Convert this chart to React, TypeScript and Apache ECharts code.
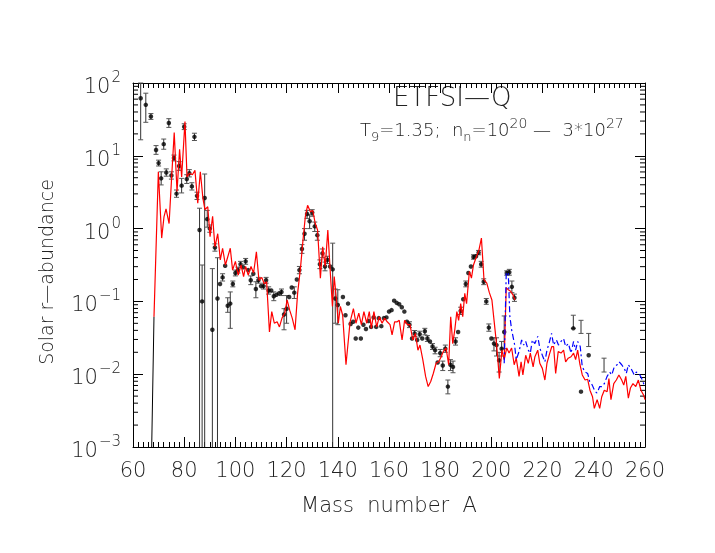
import React, { useEffect, useRef } from "react";
import * as echarts from "echarts";

// ---- data (log10 of abundance) ----
// Solar r-abundances: [A, log10 Y, log10 low, log10 high] (null = no error bar)
const solarPoints: (number | null)[][] = [
  [63, 1.79, 1.22, 2.0], [65, 1.70, 1.46, 1.86], [67, 1.54, 1.50, 1.58], [69, 1.08, 1.02, 1.14],
  [70, 0.90, 0.86, 0.94], [71, 0.69, 0.60, 0.78], [72, 1.16, 1.09, 1.23], [73, 0.77, 0.72, 0.82],
  [74, 1.45, 1.39, 1.51], [75, 0.73, 0.68, 0.78], [76, 0.97, 0.93, 1.01], [77, 0.48, 0.43, 0.53],
  [78, 0.86, 0.80, 0.92], [79, 0.59, 0.49, 0.69], [80, 1.40, 1.36, 1.44], [81, 0.68, 0.62, 0.74],
  [82, 0.76, 0.71, 0.81], [83, 0.58, 0.53, 0.63], [84, 1.26, 1.21, 1.31], [85, 0.45, 0.40, 0.50],
  [86, -0.02, -3, 0.28], [87, -1.0, -3, -0.5], [88, 0.42, -3, 0.75], [89, 0.13, 0.02, 0.25],
  [90, 0.0, -0.05, 0.05], [91, -1.39, -3, -0.55], [92, -0.26, -0.31, -0.21], [93, -0.96, -3, -0.40],
  [94, -0.76, null, null], [95, -0.67, -0.72, -0.62], [96, -0.51, null, null], [97, -1.06, -1.15, -0.95],
  [98, -1.03, -1.37, -0.87], [99, -0.76, -0.80, -0.72], [100, -0.61, -0.65, -0.57], [101, -0.57, -0.61, -0.53],
  [102, -0.49, -0.53, -0.45], [103, -0.53, null, null], [104, -0.45, -0.49, -0.41], [105, -0.57, null, null],
  [106, -0.71, -0.77, -0.65], [107, -0.62, null, null], [108, -0.83, -0.95, -0.73], [109, -0.71, -0.75, -0.67],
  [110, -0.79, null, null], [111, -0.79, -0.83, -0.75], [112, -0.71, -0.75, -0.67], [113, -0.85, -0.90, -0.80],
  [114, -0.85, null, null], [115, -0.93, -0.99, -0.87], [116, -0.91, null, null], [117, -0.89, null, null],
  [118, -0.87, -0.92, -0.83], [119, -1.18, -1.39, -1.10], [120, -1.10, -1.30, -0.92], [121, -0.94, null, null],
  [122, -0.81, null, null], [123, -0.88, -0.96, -0.80], [124, -0.70, null, null], [125, -0.57, -0.62, -0.52],
  [126, -0.28, -0.34, -0.22], [127, -0.07, -0.16, 0.0], [128, 0.20, 0.14, 0.25], [129, 0.10, 0.0, 0.19],
  [130, 0.22, 0.17, 0.26], [131, 0.03, -0.04, 0.09], [132, -0.09, -0.16, -0.04], [133, -0.49, -0.55, -0.43],
  [134, -0.34, -0.40, -0.28], [135, -0.52, -0.58, -0.46], [136, -0.43, -0.48, -0.38], [137, -0.52, null, null],
  [138, -0.56, -3, -0.20], [139, -0.96, -1.30, -0.83], [140, -1.05, -1.32, -0.84],
  [142, -0.94, null, null], [143, -1.19, null, null], [144, -1.03, null, null], [145, -1.31, null, null],
  [146, -1.28, null, null], [147, -1.51, null, null], [148, -1.36, null, null], [149, -1.51, null, null],
  [150, -1.32, null, null], [151, -1.38, null, null], [152, -1.27, null, null], [153, -1.35, null, null],
  [154, -1.22, null, null], [155, -1.35, null, null], [156, -1.23, null, null], [157, -1.34, null, null],
  [158, -1.23, null, null], [159, -1.22, null, null], [160, -1.14, null, null], [161, -1.12, null, null],
  [162, -0.99, null, null], [163, -1.02, null, null], [164, -1.04, null, null], [165, -1.08, null, null],
  [166, -1.14, null, null], [167, -1.28, null, null], [168, -1.32, -1.36, -1.28], [169, -1.51, null, null],
  [170, -1.44, -1.48, -1.40], [171, -1.53, null, null], [172, -1.45, -1.49, -1.41], [173, -1.51, null, null],
  [174, -1.41, -1.46, -1.37], [175, -1.51, -1.55, -1.47], [176, -1.55, null, null], [177, -1.62, -1.66, -1.58],
  [178, -1.67, -1.72, -1.63], [179, -1.84, null, null], [180, -1.71, -1.76, -1.66], [181, -1.88, -1.95, -1.82],
  [182, -1.65, -1.70, -1.60], [183, -2.17, -2.27, -2.08], [184, -1.87, -1.95, -1.80], [185, -1.90, -1.98, -1.82],
  [186, -1.55, -1.60, -1.50], [187, -1.42, null, null], [188, -1.13, -1.18, -1.08], [189, -0.97, null, null],
  [190, -0.76, -0.80, -0.72], [191, -0.61, null, null], [192, -0.52, null, null], [193, -0.39, -0.42, -0.36],
  [194, -0.38, null, null], [195, -0.33, -0.36, -0.30], [196, -0.49, -0.53, -0.45], [197, -0.73, -0.77, -0.69],
  [198, -1.00, -1.04, -0.96], [199, -1.36, -1.41, -1.31], [200, -1.51, null, null], [201, -1.58, -1.68, -1.50],
  [202, -1.60, -1.75, -1.50], [203, -1.81, -1.97, -1.70], [204, -1.65, -1.75, -1.55], [205, -1.42, -1.65, -1.20],
  [206, -0.61, -0.64, -0.58], [207, -0.60, -0.64, -0.56], [208, -0.80, -0.88, -0.72], [209, -0.95, -1.00, -0.90],
  [232, -1.37, -1.37, -1.19], [235, -2.24, null, null], [238, -1.74, null, null],
];
// error bars shown without a point: [A, log10 low, log10 high]
const bareBars: number[][] = [
  [235, -1.44, -1.26], [238, -1.62, -1.44], [244, -1.97, -1.78],
];

// r-process calculation, red curve: [A, log10 Y]
const calcLowStart: number[][] = [[67.3, -3.0], [68.2, -1.21]];
const calcRed: number[][] = [
  [68.2, -1.21], [69.9, 0.78], [71.2, -0.13], [72.1, 0.16], [72.9, 0.27], [74.1, 0.07], [75.1, 0.71],
  [76.1, 1.32], [77.2, 0.51], [78.2, 1.09], [79.0, 0.71], [80.3, 1.47], [81.1, 0.71], [82.1, 0.76],
  [83.2, 0.74], [84.2, 0.80], [85.3, 0.35], [86.3, 0.78], [87.3, 0.42], [88.1, 0.26], [89.2, 0.30],
  [90.1, -0.11], [91.1, 0.17], [92.0, -0.25], [93.1, -0.07], [94.1, -0.43], [95.0, -0.27], [96.1, -0.50],
  [97.0, -0.39], [98.0, -0.27], [98.9, -0.57], [100.0, -0.45], [101.1, -0.64], [102.2, -0.50], [103.2, -0.66],
  [104.0, -0.52], [105.0, -0.64], [106.1, -0.52], [107.1, -0.61], [108.2, -0.32], [109.2, -0.71], [110.3, -0.67],
  [111.3, -0.76], [112.2, -0.73], [113.3, -1.42], [114.2, -1.14], [115.2, -1.30], [116.3, -1.28], [117.2, -1.35],
  [118.2, -1.23], [119.3, -1.16], [120.2, -0.98], [121.2, -1.12], [122.2, -1.23], [123.3, -1.39], [124.3, -0.89],
  [125.4, -0.55], [126.4, -0.16], [127.3, 0.16], [128.2, 0.32], [129.3, 0.23], [130.2, 0.25], [131.2, 0.07],
  [132.1, -0.02], [133.2, -0.68], [134.1, -0.25], [135.1, -0.52], [136.1, -0.02], [137.1, -0.62], [137.9, -1.07],
  [138.6, -0.66], [139.4, -0.95], [140.2, -1.30], [141.0, -1.07], [141.9, -1.19], [143.2, -1.87], [144.8, -1.28],
  [146.1, -1.10], [147.1, -1.30], [148.2, -1.16], [149.2, -1.32], [150.2, -1.14], [151.3, -1.30], [152.3, -1.14],
  [153.1, -1.37], [154.1, -1.14], [155.2, -1.35], [156.2, -1.21], [157.3, -1.30], [158.3, -1.23], [159.3, -1.28],
  [160.4, -1.32], [161.2, -1.46], [162.2, -1.28], [163.2, -1.28], [164.0, -1.26], [165.1, -1.53], [166.1, -1.26],
  [167.2, -1.32], [168.2, -1.32], [169.3, -1.53], [170.3, -1.44], [171.3, -1.67], [172.1, -1.60], [173.2, -1.80],
  [174.3, -2.03], [175.3, -2.17], [176.3, -2.10], [177.3, -1.99], [178.4, -1.85], [179.4, -1.83], [180.4, -1.76],
  [181.2, -1.69], [182.3, -1.64], [183.3, -1.87], [184.1, -1.21], [184.9, -1.58], [185.7, -1.39], [186.5, -1.14],
  [187.2, -1.26], [188.0, -1.03], [188.8, -1.21], [189.6, -0.89], [190.3, -1.03], [191.4, -0.59], [192.2, -0.68],
  [193.0, -0.50], [194.1, -0.39], [195.1, -0.30], [196.1, -0.13], [197.1, -0.70], [198.2, -0.75], [199.2, -0.88],
  [200.2, -0.98], [201.3, -1.35], [202.1, -1.62], [203.1, -2.06], [204.1, -1.67], [205.0, -1.80], [206.0, -1.64],
  [206.9, -1.71], [207.9, -1.64], [208.9, -1.87], [209.7, -1.78], [210.8, -2.03], [211.6, -1.83], [212.3, -2.01],
  [213.4, -1.74], [214.4, -1.85], [215.2, -1.71], [216.3, -1.90], [217.0, -1.76], [218.1, -1.67], [218.9, -1.85],
  [219.9, -1.92], [220.9, -2.08], [221.7, -1.85], [222.8, -1.71], [223.6, -1.62], [224.3, -1.62], [225.1, -1.99],
  [226.1, -1.69], [227.2, -1.71], [228.2, -1.67], [229.0, -1.83], [230.0, -1.78], [231.1, -1.76], [232.1, -1.71],
  [232.9, -1.80], [233.7, -1.67], [234.6, -1.87], [235.5, -2.01], [236.6, -2.08], [237.6, -2.07], [238.5, -2.22],
  [239.5, -2.31], [240.2, -2.47], [241.3, -2.35], [242.3, -2.47], [243.1, -2.31], [244.1, -2.22], [245.2, -2.24],
  [245.9, -2.06], [246.7, -2.35], [247.8, -2.13], [248.8, -2.08], [249.8, -2.01], [250.9, -2.08], [251.7, -2.15],
  [252.5, -2.03], [253.5, -2.33], [254.3, -2.19], [255.3, -2.13], [256.4, -2.17], [257.4, -2.08], [258.4, -2.22],
  [259.5, -2.29], [260.0, -2.35],
];
const calcRedPeak: number[][] = [
  [205.0, -1.80], [205.8, -0.81], [206.6, -0.84], [207.5, -0.86], [208.4, -0.91], [209.2, -0.98],
];
// blue dashed curve: [A, log10 Y]
const calcBlue: number[][] = [
  [205.0, -1.85], [205.8, -0.60], [206.6, -0.62], [207.2, -1.20], [207.9, -1.39], [209.0, -1.58], [209.7, -1.80],
  [210.8, -1.69], [211.8, -1.53], [212.6, -1.60], [213.4, -1.55], [214.4, -1.67], [215.2, -1.71], [216.0, -1.53],
  [217.0, -1.58], [218.1, -1.48], [218.9, -1.64], [219.9, -1.74], [220.9, -1.83], [221.7, -1.67], [222.5, -1.58],
  [223.5, -1.44], [224.3, -1.60], [225.4, -1.53], [226.2, -1.60], [227.2, -1.55], [228.2, -1.51], [229.0, -1.62],
  [230.1, -1.58], [231.1, -1.71], [232.1, -1.55], [232.9, -1.67], [233.7, -1.55], [234.7, -1.62], [235.5, -1.90],
  [236.6, -1.97], [237.6, -1.99], [238.4, -2.10], [239.4, -2.15], [240.5, -2.24], [241.3, -2.26], [242.3, -2.17],
  [243.3, -2.17], [244.1, -2.13], [245.2, -2.03], [246.2, -1.97], [247.0, -2.01], [248.0, -1.90], [249.1, -1.87],
  [249.9, -1.83], [250.9, -1.87], [251.9, -1.92], [252.7, -1.99], [253.5, -1.87], [254.8, -1.94], [255.8, -2.01],
  [256.6, -1.97], [257.7, -1.99], [258.7, -2.06], [259.5, -2.13], [260.3, -2.15],
];

const FONT = "'DejaVu Sans', sans-serif";
const TXT = "#222";
const toVal = (e: number) => Math.pow(10, e);
const toXY = (arr: number[][]) => arr.map((p) => [p[0], toVal(p[1])]);

export default function App() {
  const ref = useRef<HTMLDivElement>(null);
  useEffect(() => {
    if (!ref.current) return;
    const chart = echarts.init(ref.current, null, { renderer: "svg" });

    const points = solarPoints.map((p) => [p[0], toVal(p[1] as number)]);
    const bars: number[][] = [];
    solarPoints.forEach((p) => {
      if (p[2] != null && p[3] != null) bars.push([p[0] as number, toVal(p[2] as number), toVal(p[3] as number)]);
    });
    bareBars.forEach((b) => bars.push([b[0], toVal(b[1]), toVal(b[2])]));

    const minorVals: number[] = [];
    for (let n = -3; n <= 1; n++) for (let k = 2; k <= 9; k++) minorVals.push(k * Math.pow(10, n));

    const axisLineStyle = { color: "#000", width: 1 };
    const xCommon = {
      type: "value" as const,
      min: 60,
      max: 260,
      interval: 20,
      axisLine: { lineStyle: axisLineStyle },
      axisTick: { inside: true, length: 10, lineStyle: axisLineStyle },
      minorTick: { show: true, splitNumber: 10, length: 5, lineStyle: axisLineStyle },
      splitLine: { show: false },
    };
    const yCommon = {
      type: "log" as const,
      logBase: 10,
      min: 0.001,
      max: 100,
      interval: 1,
      axisLine: { show: true, lineStyle: axisLineStyle },
      axisTick: { show: true, inside: true, length: 10, lineStyle: axisLineStyle },
      splitLine: { show: false },
    };

    const option: any = {
      animation: false,
      grid: { left: 133, right: 70, top: 83, bottom: 106, containLabel: false },
      xAxis: [
        {
          ...xCommon,
          position: "bottom",
          axisLabel: { fontSize: 21, color: TXT, margin: 12, fontFamily: FONT, fontWeight: 300 },
          name: "Mass  number  A",
          nameLocation: "middle",
          nameGap: 47,
          nameTextStyle: { fontSize: 21, color: TXT, fontFamily: FONT, fontWeight: 300 },
        },
        { ...xCommon, position: "top", axisLabel: { show: false } },
      ],
      yAxis: [
        {
          ...yCommon,
          position: "left",
          axisLabel: {
            margin: 12,
            formatter: (v: number) => {
              const e = Math.round(Math.log10(v));
              return "{a|10}{b|" + (e < 0 ? "\u2212" + -e : String(e)) + "}";
            },
            rich: {
              a: { fontSize: 21, color: TXT, fontFamily: FONT, fontWeight: 300, verticalAlign: "bottom" },
              b: { fontSize: 15, color: TXT, fontFamily: FONT, fontWeight: 300, verticalAlign: "bottom", padding: [0, 0, 12, 1] },
            },
          },
        },
        { ...yCommon, position: "right", axisLabel: { show: false } },
      ],
      series: [
        {
          type: "custom",
          xAxisIndex: 0,
          yAxisIndex: 0,
          data: minorVals.map((v) => [60, v]),
          encode: { x: 0, y: 1 },
          silent: true,
          clip: false,
          renderItem: (params: any, api: any) => {
            const cs = params.coordSys;
            const y = api.coord([60, api.value(1)])[1];
            return {
              type: "group",
              children: [
                { type: "line", shape: { x1: cs.x, y1: y, x2: cs.x + 5, y2: y }, style: { stroke: "#000", lineWidth: 1 } },
                { type: "line", shape: { x1: cs.x + cs.width, y1: y, x2: cs.x + cs.width - 5, y2: y }, style: { stroke: "#000", lineWidth: 1 } },
              ],
            };
          },
        },
        {
          name: "calc-low",
          type: "line",
          data: toXY(calcLowStart),
          showSymbol: false,
          lineStyle: { color: "#000", width: 1 },
        },
        {
          name: "calc",
          type: "line",
          data: toXY(calcRed),
          showSymbol: false,
          lineStyle: { color: "#ff0000", width: 1.2 },
        },
        {
          name: "calc-peak",
          type: "line",
          data: toXY(calcRedPeak),
          showSymbol: false,
          lineStyle: { color: "#ff0000", width: 1.2 },
        },
        {
          name: "calc-blue",
          type: "line",
          data: toXY(calcBlue),
          showSymbol: false,
          lineStyle: { color: "#0000ff", width: 1.2, type: [6, 3, 2, 3] },
        },
        {
          name: "errors",
          type: "custom",
          data: bars,
          encode: { x: 0, y: [1, 2] },
          renderItem: (params: any, api: any) => {
            const x = api.value(0);
            const lo = api.value(1);
            const hi = api.value(2);
            const p1 = api.coord([x, lo]);
            const p2 = api.coord([x, hi]);
            const cap = 2.5;
            const children: any[] = [
              { type: "line", shape: { x1: p1[0], y1: p1[1], x2: p2[0], y2: p2[1] }, style: { stroke: "#333", lineWidth: 1 } },
              { type: "line", shape: { x1: p2[0] - cap, y1: p2[1], x2: p2[0] + cap, y2: p2[1] }, style: { stroke: "#555", lineWidth: 1 } },
            ];
            if (lo > 0.0011) {
              children.push({ type: "line", shape: { x1: p1[0] - cap, y1: p1[1], x2: p1[0] + cap, y2: p1[1] }, style: { stroke: "#555", lineWidth: 1 } });
            }
            return { type: "group", children };
          },
        },
        {
          name: "solar",
          type: "scatter",
          data: points,
          symbol: "circle",
          symbolSize: 4.5,
          itemStyle: { color: "#000" },
        },
      ],
      graphic: [
        {
          type: "text",
          left: 393,
          top: 84,
          style: { text: "ETFSI\u2014Q", fontSize: 26, fill: TXT, fontFamily: FONT, fontWeight: 300 },
        },
        {
          type: "text",
          left: 360,
          top: 116,
          style: {
            text: "{a|T}{s|9}{a|=1.35;  n}{s|n}{a|=10}{p|20}{a| \u2014  3*10}{p|27}",
            rich: {
              a: { fontSize: 18, fill: TXT, fontFamily: FONT, fontWeight: 300, verticalAlign: "bottom", padding: [0, 0, 5, 0] },
              s: { fontSize: 13, fill: TXT, fontFamily: FONT, fontWeight: 300, verticalAlign: "bottom", padding: [0, 0, 0, 0] },
              p: { fontSize: 14, fill: TXT, fontFamily: FONT, fontWeight: 300, verticalAlign: "bottom", padding: [0, 0, 13, 0] },
            },
          },
        },
        {
          type: "text",
          x: 46,
          y: 272,
          rotation: Math.PI / 2,
          style: {
            text: "Solar r\u2014abundance",
            fontSize: 19,
            fill: TXT,
            fontFamily: FONT,
            fontWeight: 300,
            align: "center",
            verticalAlign: "middle",
          },
        },
      ],
    };
    chart.setOption(option);
    return () => chart.dispose();
  }, []);
  return <div ref={ref} style={{ position: "fixed", left: 0, top: 0, width: 715, height: 553 }} />;
}
